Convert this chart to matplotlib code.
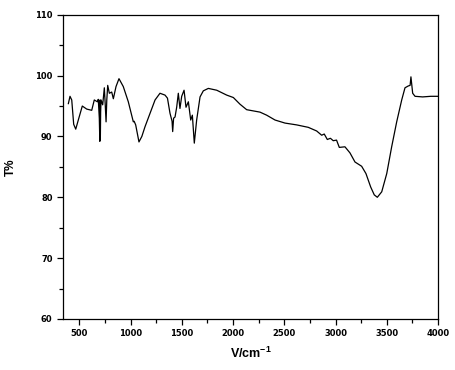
import matplotlib
matplotlib.use("Agg")
import matplotlib.pyplot as plt
from matplotlib.ticker import MultipleLocator

plt.rcParams["mathtext.fontset"] = "custom"
plt.rcParams["mathtext.bf"] = "Liberation Sans:bold"
plt.rcParams["mathtext.rm"] = "Liberation Sans"

wavenumber = [393, 409, 426, 445, 465, 490, 529, 572, 621, 646, 676, 685, 695, 700, 702, 705, 708,
              712, 728, 744, 752, 761, 768, 777, 793, 816, 832, 858, 887, 929, 978, 1027,
              1035, 1050, 1082, 1110, 1141, 1190, 1239, 1287, 1336, 1360, 1385, 1405, 1411, 1420,
              1434, 1450, 1466, 1482, 1499, 1522, 1541, 1564, 1587, 1603, 1622, 1645, 1678, 1710,
              1759, 1841, 1938, 2003, 2068, 2133, 2263, 2328, 2410, 2507, 2621, 2734, 2816, 2865,
              2890, 2920, 2950, 2978, 3010, 3037, 3092, 3141, 3190, 3255, 3297, 3343, 3378, 3408,
              3451, 3500, 3548, 3597, 3646, 3678, 3710, 3728, 3736, 3753, 3776, 3850, 3930, 4000]
transmittance = [95.4, 96.6, 96.0, 92.0, 91.2, 92.7, 95.0, 94.5, 94.3, 96.0, 95.7, 96.1, 93.0, 89.2, 96.0, 89.4, 94.0,
                 96.0, 95.2, 98.0, 95.5, 92.4, 96.0, 98.4, 97.1, 97.3, 96.2, 98.2, 99.5, 98.2, 95.7, 92.4,
                 92.5, 91.9, 89.1, 90.0, 91.6, 93.8, 96.0, 97.1, 96.8, 96.3, 93.8, 92.5, 90.8, 93.0,
                 93.2, 94.8, 97.1, 94.6, 96.6, 97.6, 94.8, 95.7, 92.7, 93.5, 88.9, 92.7, 96.5, 97.5,
                 97.9, 97.6, 96.8, 96.4, 95.3, 94.4, 94.0, 93.5, 92.7, 92.2, 91.9, 91.5, 90.9, 90.2,
                 90.4, 89.5, 89.7, 89.3, 89.4, 88.2, 88.3, 87.3, 85.8, 85.1, 83.9, 81.7, 80.4, 80.0,
                 80.9, 83.9, 88.3, 92.4, 96.0, 98.0, 98.3, 98.4, 99.8, 97.1, 96.6, 96.5, 96.6, 96.6]

fig = plt.figure(figsize=(4.56, 3.70), dpi=100)
ax = fig.add_axes([0.138, 0.138, 0.8225, 0.822])
ax.plot(wavenumber, transmittance, color="black", linewidth=0.9)
ax.set_xlim(340, 4000)
ax.set_ylim(60, 110)
ax.xaxis.set_major_locator(MultipleLocator(500))
ax.xaxis.set_minor_locator(MultipleLocator(250))
ax.yaxis.set_major_locator(MultipleLocator(10))
ax.yaxis.set_minor_locator(MultipleLocator(5))
ax.tick_params(which="both", direction="out", top=False, right=False, width=0.9)
ax.tick_params(which="major", length=4.5, labelsize=6, pad=3)
ax.tick_params(which="minor", length=3)
for lab in ax.get_xticklabels() + ax.get_yticklabels():
    lab.set_fontweight("heavy")
for s in ax.spines.values():
    s.set_linewidth(0.9)
ax.set_xlabel(r"$\mathbf{V/cm^{-1}}$", fontsize=9, labelpad=5)
ax.set_ylabel("T%", fontsize=8.5, fontweight="bold", family="Liberation Sans", labelpad=13)
fig.savefig("out.png", dpi=100)
